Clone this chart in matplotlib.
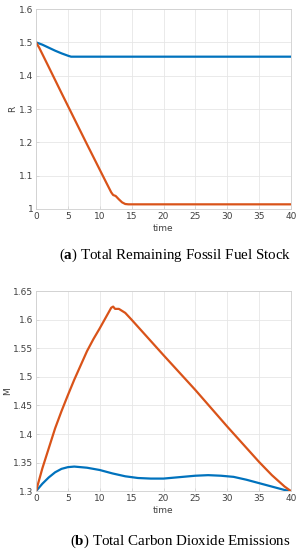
import numpy as np
import matplotlib.pyplot as plt

plt.rcParams['mathtext.fontset'] = 'custom'
plt.rcParams['mathtext.rm'] = 'Liberation Serif'
plt.rcParams['mathtext.bf'] = 'Liberation Serif:bold'

# Dados
t_R_blue = [0, 1, 2, 3, 4, 5, 5.5, 6, 10, 20, 30, 40]
R_blue = [1.5, 1.493, 1.484, 1.475, 1.467, 1.460, 1.457, 1.457, 1.457, 1.457, 1.457, 1.457]

t_R_red = [0, 0.5, 2, 4, 6, 8, 10, 11, 11.8, 12.1, 12.5, 13, 13.5, 14, 14.5, 15, 20, 30, 40]
R_red = [1.5, 1.484, 1.426, 1.348, 1.271, 1.194, 1.118, 1.08, 1.050, 1.042, 1.039, 1.029, 1.020, 1.015, 1.014, 1.014, 1.014, 1.014, 1.014]

t_M_blue = [0, 1, 2, 3, 4, 5, 6, 8, 10, 12, 14, 16, 18, 20, 22, 25, 27, 29, 31, 33, 35, 37, 39, 40]
M_blue = [1.3, 1.313, 1.324, 1.333, 1.339, 1.342, 1.343, 1.341, 1.337, 1.331, 1.326, 1.323, 1.322, 1.322, 1.324, 1.327, 1.328, 1.327, 1.325, 1.320, 1.314, 1.308, 1.302, 1.3]

t_M_red = [0, 1, 2, 3, 4, 5, 6, 7, 8, 9, 10, 11, 11.8, 12.1, 12.4, 13, 14, 15, 20, 25, 30, 35, 37, 39, 40]
M_red = [1.3, 1.34, 1.375, 1.41, 1.44, 1.468, 1.495, 1.52, 1.545, 1.566, 1.585, 1.605, 1.621, 1.623, 1.619, 1.619, 1.612, 1.600, 1.538, 1.477, 1.413, 1.351, 1.328, 1.308, 1.3]

azul = '#0072BD'
laranja = '#D95319'

fig = plt.figure(figsize=(3, 5.5), dpi=100)

def painel(pos, xs, ys, ylim, yticks, ylabel):
    ax = fig.add_axes(pos)
    ax.plot(xs[0], ys[0], color=azul, linewidth=1.6)
    ax.plot(xs[1], ys[1], color=laranja, linewidth=1.6)
    ax.set_xlim(0, 40)
    ax.set_ylim(*ylim)
    ax.set_xticks(range(0, 41, 5))
    ax.set_yticks(yticks)
    ax.set_yticklabels(['%g' % v for v in yticks])
    ax.grid(True, color='#e6e6e6', linewidth=0.6)
    ax.set_axisbelow(True)
    for s in ax.spines.values():
        s.set_color('#cfcfcf')
        s.set_linewidth(0.6)
    ax.tick_params(direction='in', length=2, width=0.5, color='#cfcfcf',
                   labelsize=6.5, labelcolor='#404040', pad=2)
    ax.set_xlabel('time', fontsize=6.5, color='#404040', labelpad=2)
    ax.set_ylabel(ylabel, fontsize=6.5, color='#404040', labelpad=1)
    return ax

painel([0.12, 0.62, 0.85, 0.3636], [t_R_blue, t_R_red], [R_blue, R_red],
       (1.0, 1.6), [1, 1.1, 1.2, 1.3, 1.4, 1.5, 1.6], 'R')
painel([0.12, 0.107, 0.85, 0.3636], [t_M_blue, t_M_red], [M_blue, M_red],
       (1.3, 1.65), [1.3, 1.35, 1.4, 1.45, 1.5, 1.55, 1.6, 1.65], 'M')

fig.text(0.97, 1 - 255 / 550, r'($\mathbf{a}$) Total Remaining Fossil Fuel Stock',
         ha='right', va='center', fontsize=10.8, family='Liberation Serif')
fig.text(0.97, 1 - 541 / 550, r'($\mathbf{b}$) Total Carbon Dioxide Emissions',
         ha='right', va='center', fontsize=10.8, family='Liberation Serif')

fig.savefig('out.png', dpi=100)
